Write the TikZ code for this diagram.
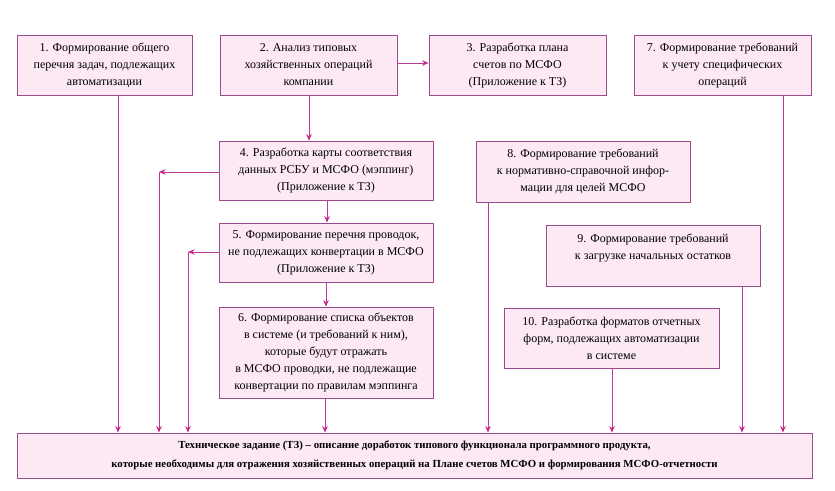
\documentclass[tikz,border=0pt]{standalone}
\usepackage{fontspec}
\setmainfont{Liberation Serif}
\newfontfamily\timesf{Liberation Serif}
\usetikzlibrary{arrows.meta,calc}
\definecolor{boxborder}{HTML}{9B4A8E}
\definecolor{boxfill}{HTML}{FCE9F3}
\definecolor{linec}{HTML}{BC3A9C}
\definecolor{headc}{HTML}{C8258A}
\begin{document}
\begin{tikzpicture}[x=1pt,y=-1pt,
  bx/.style={draw=boxborder,fill=boxfill,line width=0.9pt,rectangle,align=center,
    inner sep=0pt,font=\timesf\fontsize{12}{17}\selectfont},
  arr/.style={draw=linec,line width=1pt,-{Stealth[length=6.5pt,width=5.5pt,color=headc]}},
  ln/.style={draw=linec,line width=1pt}]
\useasboundingbox (0,0) rectangle (835,490);
\node[bx,minimum width=175pt,minimum height=60pt] (b1) at (104.5,65)
  {1. Формирование общего\\перечня задач, подлежащих\\автоматизации};
\node[bx,minimum width=177pt,minimum height=60pt] (b2) at (308.5,65)
  {2. Анализ типовых\\хозяйственных операций\\компании};
\node[bx,minimum width=177pt,minimum height=60pt] (b3) at (517.5,65)
  {3. Разработка плана\\счетов по МСФО\\(Приложение к ТЗ)};
\node[bx,minimum width=177pt,minimum height=60pt] (b7) at (722.5,65)
  {7. Формирование требований\\к учету специфических\\операций};
\node[bx,minimum width=214pt,minimum height=59pt] (b4) at (326,170.5)
  {4. Разработка карты соответствия\\данных РСБУ и МСФО (мэппинг)\\(Приложение к ТЗ)};
\node[bx,minimum width=214pt,minimum height=59pt] (b5) at (326,252.5)
  {5. Формирование перечня проводок,\\не подлежащих конвертации в МСФО\\(Приложение к ТЗ)};
\node[bx,minimum width=214pt,minimum height=91pt] (b6) at (326,352.5)
  {6. Формирование списка объектов\\в системе (и требований к ним),\\которые будут отражать\\в МСФО проводки, не подлежащие\\конвертации по правилам мэппинга};
\node[bx,minimum width=214pt,minimum height=61pt] (b8) at (583,171.5)
  {8. Формирование требований\\к нормативно-справочной инфор-\\мации для целей МСФО};
\node[bx,minimum width=214pt,minimum height=61pt] (b9) at (653,255.5)
  {9. Формирование требований\\к загрузке начальных остатков\\~};
\node[bx,minimum width=215pt,minimum height=60pt] (b10) at (611.5,338)
  {10. Разработка форматов отчетных\\форм, подлежащих автоматизации\\в системе};
\node[bx,minimum width=795pt,minimum height=45pt,font=\timesf\bfseries\fontsize{10.8}{19}\selectfont] (bot) at (414.5,455.5)
  {Техническое задание (ТЗ) – описание доработок типового функционала программного продукта,\\которые необходимы для отражения хозяйственных операций на Плане счетов МСФО и формирования МСФО-отчетности};
% x positions of connectors
\coordinate (x1) at (118,0);
\coordinate (x2) at (309,0);
\coordinate (x45) at (327,0);
\coordinate (x56) at (326,0);
\coordinate (x6) at (325,0);
\coordinate (x8) at (488,0);
\coordinate (x9) at (742,0);
\coordinate (x7) at (783,0);
\coordinate (x10) at (612,0);
\coordinate (c4) at (159,172);
\coordinate (c5) at (188,252);
\coordinate (y23) at (0,63);
% connectors
\draw[arr] (b2.east |- y23) -- (b3.west |- y23);
\draw[arr] (x1 |- b1.south) -- (x1 |- bot.north);
\draw[arr] (x2 |- b2.south) -- (x2 |- b4.north);
\draw[arr] (x45 |- b4.south) -- (x45 |- b5.north);
\draw[arr] (x56 |- b5.south) -- (x56 |- b6.north);
\draw[arr] (x6 |- b6.south) -- (x6 |- bot.north);
\draw[arr] (b4.west |- c4) -- (c4);
\draw[arr] (c4) -- (c4 |- bot.north);
\draw[arr] (b5.west |- c5) -- (c5);
\draw[arr] (c5) -- (c5 |- bot.north);
\draw[arr] (x8 |- b8.south) -- (x8 |- bot.north);
\draw[arr] (x9 |- b9.south) -- (x9 |- bot.north);
\draw[arr] (x7 |- b7.south) -- (x7 |- bot.north);
\draw[arr] (x10 |- b10.south) -- (x10 |- bot.north);
\end{tikzpicture}
\end{document}
